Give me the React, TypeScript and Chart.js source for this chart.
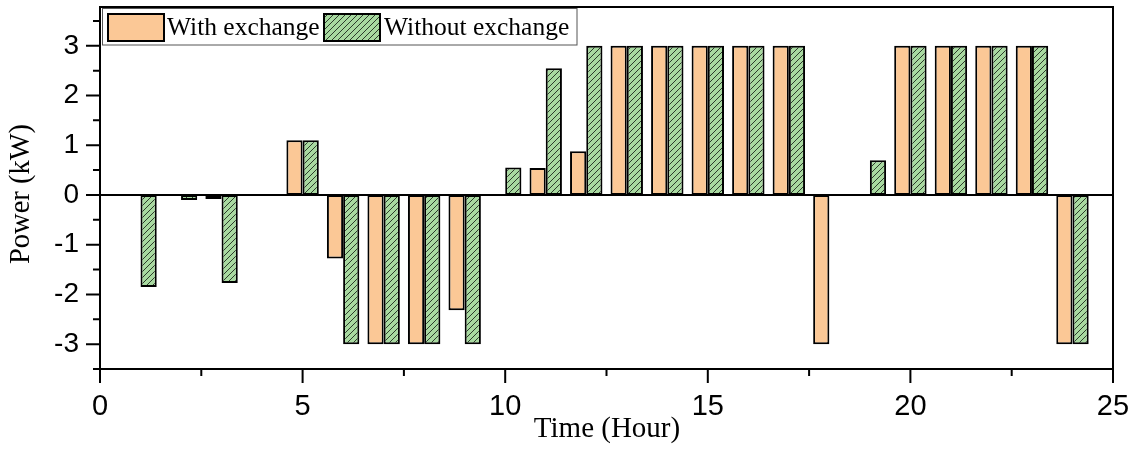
import { useEffect, useRef } from "react";
import { Chart, registerables } from "chart.js";

Chart.register(...registerables);

// Hourly power exchange, kW
const hours = [1, 2, 3, 4, 5, 6, 7, 8, 9, 10, 11, 12, 13, 14, 15, 16, 17, 18, 19, 20, 21, 22, 23, 24];
const withExchange = [0, 0, -0.08, 0, 1.1, -1.28, -3, -3, -2.32, 0, 0.54, 0.88, 3, 3, 3, 3, 3, -3, 0, 3, 3, 3, 3, -3];
const withoutExchange = [-1.85, -0.1, -1.77, 0, 1.1, -3, -3, -3, -3, 0.55, 2.55, 3, 3, 3, 3, 3, 3, 0, 0.7, 3, 3, 3, 3, -3];

const seriesNames = ["With exchange", "Without exchange"];
const xTickValues = [0, 5, 10, 15, 20, 25];
const xMinorValues = [2.5, 7.5, 12.5, 17.5, 22.5];
const yTickValues = [-3, -2, -1, 0, 1, 2, 3];
const yMinorValues = [-3.5, -2.5, -1.5, -0.5, 0.5, 1.5, 2.5, 3.5];
const xTitle = "Time (Hour)";
const yTitle = "Power (kW)";

const ORANGE = "#fbc896";
const GREEN = "#a8d9a0";
const SANS = "'Liberation Sans', Arial, sans-serif";
const SERIF = "'Liberation Serif', 'Times New Roman', serif";

function makeHatch(): CanvasPattern | string {
  const size = 6;
  const c = document.createElement("canvas");
  c.width = size;
  c.height = size;
  const g = c.getContext("2d");
  if (!g) return GREEN;
  g.fillStyle = GREEN;
  g.fillRect(0, 0, size, size);
  g.strokeStyle = "#1e2a1e";
  g.lineWidth = 0.9;
  g.beginPath();
  g.moveTo(0, size);
  g.lineTo(size, 0);
  g.moveTo(-size / 2, size / 2);
  g.lineTo(size / 2, -size / 2);
  g.moveTo(size / 2, size * 1.5);
  g.lineTo(size * 1.5, size / 2);
  g.stroke();
  const p = g.createPattern(c, "repeat");
  return p || GREEN;
}

// keep tick labels from pushing the plot area inward
const noLabelPadding = (scale: any) => {
  scale.paddingTop = 0;
  scale.paddingBottom = 0;
  scale.paddingLeft = 0;
  scale.paddingRight = 0;
};

const decorPlugin = {
  id: "decor",
  afterDatasetsDraw(chart: any) {
    const { ctx, chartArea, scales } = chart;
    const y0 = scales.y.getPixelForValue(0);
    ctx.save();
    ctx.strokeStyle = "#000";
    ctx.lineWidth = 2;
    ctx.beginPath();
    ctx.moveTo(chartArea.left, y0);
    ctx.lineTo(chartArea.right, y0);
    ctx.stroke();
    ctx.restore();
  },
  afterDraw(chart: any) {
    const { ctx, chartArea, scales } = chart;
    const { left, right, top, bottom } = chartArea;
    ctx.save();
    ctx.strokeStyle = "#000";
    ctx.lineWidth = 2;
    ctx.strokeRect(left, top, right - left, bottom - top);

    // tick marks
    ctx.beginPath();
    xTickValues.forEach((v) => {
      const x = scales.x.getPixelForValue(v);
      ctx.moveTo(x, bottom);
      ctx.lineTo(x, bottom + 14);
    });
    xMinorValues.forEach((v) => {
      const x = scales.x.getPixelForValue(v);
      ctx.moveTo(x, bottom);
      ctx.lineTo(x, bottom + 7);
    });
    yTickValues.forEach((v) => {
      const y = scales.y.getPixelForValue(v);
      ctx.moveTo(left - 14, y);
      ctx.lineTo(left, y);
    });
    yMinorValues.forEach((v) => {
      const y = scales.y.getPixelForValue(v);
      ctx.moveTo(left - 7, y);
      ctx.lineTo(left, y);
    });
    ctx.stroke();

    // axis titles
    ctx.fillStyle = "#000";
    ctx.font = `29px ${SERIF}`;
    ctx.textAlign = "center";
    ctx.textBaseline = "middle";
    ctx.fillText(xTitle, 607, 429);
    ctx.save();
    ctx.translate(22, 194);
    ctx.rotate(-Math.PI / 2);
    ctx.font = `28.5px ${SERIF}`;
    ctx.fillText(yTitle, 0, 0);
    ctx.restore();

    // legend
    ctx.fillStyle = "#fff";
    ctx.fillRect(102, 8, 475, 37);
    ctx.strokeStyle = "#555";
    ctx.lineWidth = 1;
    ctx.strokeRect(102.5, 8.5, 474.5, 36.5);
    const datasets = chart.data.datasets;
    const items = [
      { x: 107, tx: 167, ds: datasets[0] },
      { x: 323, tx: 384, ds: datasets[1] },
    ];
    ctx.font = `25.5px ${SERIF}`;
    ctx.textAlign = "left";
    ctx.textBaseline = "middle";
    items.forEach((it) => {
      ctx.fillStyle = it.ds.backgroundColor;
      ctx.fillRect(it.x, 13, 58, 29);
      ctx.strokeStyle = "#000";
      ctx.lineWidth = 2;
      ctx.strokeRect(it.x + 1, 14, 56, 27);
      ctx.fillStyle = "#000";
      ctx.fillText(it.ds.label, it.tx, 28);
    });
    ctx.restore();
  },
};

export default function App() {
  const canvasRef = useRef<HTMLCanvasElement | null>(null);

  useEffect(() => {
    const canvas = canvasRef.current;
    if (!canvas) return;
    const hatch = makeHatch();
    const chart = new Chart(canvas, {
      type: "bar",
      data: {
        datasets: [
          {
            label: seriesNames[0],
            data: hours.map((h, i) => ({ x: h, y: withExchange[i] })),
            backgroundColor: ORANGE,
            borderColor: "#000",
            borderWidth: 2,
            borderSkipped: false,
            categoryPercentage: 0.8,
            barPercentage: 1,
          },
          {
            label: seriesNames[1],
            data: hours.map((h, i) => ({ x: h, y: withoutExchange[i] })),
            backgroundColor: hatch as any,
            borderColor: "#000",
            borderWidth: 2,
            borderSkipped: false,
            categoryPercentage: 0.8,
            barPercentage: 1,
          },
        ],
      },
      options: {
        responsive: false,
        animation: false,
        layout: { padding: { top: 7, right: 31, left: 0, bottom: 0 } },
        plugins: {
          legend: { display: false },
          tooltip: { enabled: false },
        },
        scales: {
          x: {
            type: "linear",
            min: 0,
            max: 25,
            offset: false,
            grid: { display: false, drawTicks: false },
            border: { display: false },
            afterBuildTicks: (scale: any) => {
              scale.ticks = xTickValues.map((v) => ({ value: v }));
            },
            afterFit: (scale: any) => {
              scale.height = 81;
              noLabelPadding(scale);
            },
            ticks: {
              color: "#000",
              padding: 21,
              maxRotation: 0,
              font: { family: SANS, size: 29 },
            },
          },
          y: {
            type: "linear",
            min: -3.5,
            max: 3.78,
            grid: { display: false, drawTicks: false },
            border: { display: false },
            afterBuildTicks: (scale: any) => {
              scale.ticks = yTickValues.map((v) => ({ value: v }));
            },
            afterFit: (scale: any) => {
              scale.width = 100;
              noLabelPadding(scale);
            },
            ticks: {
              color: "#000",
              padding: 21,
              font: { family: SANS, size: 28 },
            },
          },
        },
      },
      plugins: [decorPlugin],
    } as any);
    return () => chart.destroy();
  }, []);

  return (
    <div style={{ position: "absolute", left: 0, top: 0, width: 1144, height: 450, background: "#fff" }}>
      <canvas ref={canvasRef} width={1144} height={450} style={{ display: "block" }} />
    </div>
  );
}
